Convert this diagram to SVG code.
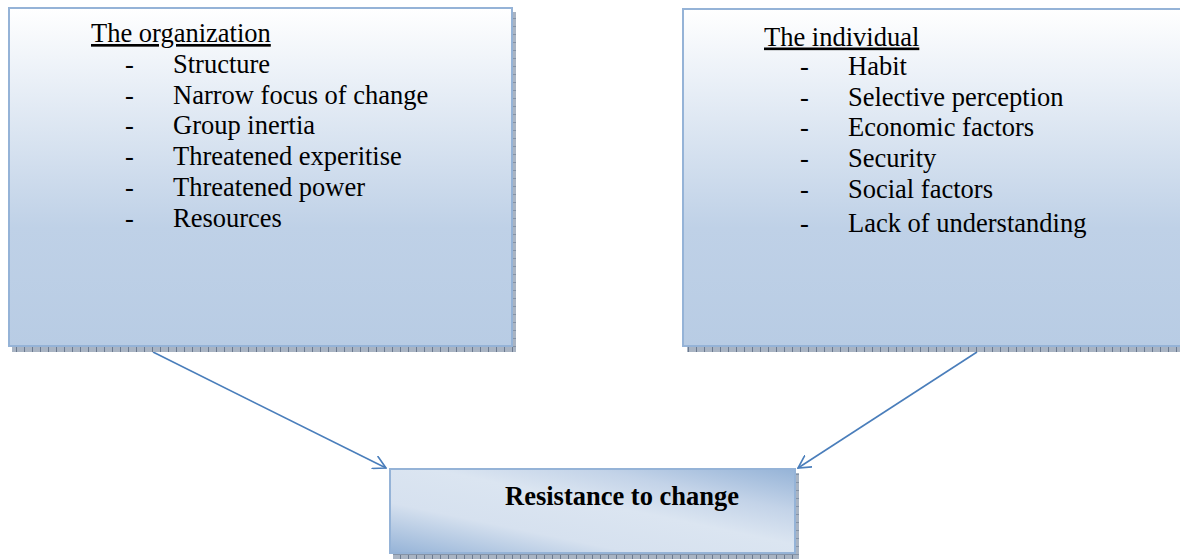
<svg xmlns="http://www.w3.org/2000/svg" width="1180" height="559" viewBox="0 0 1180 559">
<defs>
<style>
.txt{font-family:"Liberation Serif","Times New Roman",serif;font-size:26.5px;fill:#000}
.hdr{text-decoration:underline}
.bold{font-weight:bold}
.box{stroke:#95b3d7;stroke-width:2}
.conn{stroke:#4a7ebb;stroke-width:1.6;fill:none}
</style>
<linearGradient id="gv" x1="0" y1="0" x2="0" y2="1">
<stop offset="0" stop-color="#ffffff"/>
<stop offset="0.65" stop-color="#bfd1e7"/>
<stop offset="1" stop-color="#b8cce4"/>
</linearGradient>
<linearGradient id="gd" x1="0" y1="1" x2="1" y2="0">
<stop offset="0" stop-color="#95b3d7"/>
<stop offset="0.3" stop-color="#d6e1ef"/>
<stop offset="0.55" stop-color="#dbe5f1"/>
<stop offset="0.75" stop-color="#c3d3e8"/>
<stop offset="1" stop-color="#95b3d7"/>
</linearGradient>
<pattern id="sh" width="8" height="8" patternUnits="userSpaceOnUse">
<rect width="8" height="8" fill="#a9b4c3"/>
<rect x="0" y="0" width="1" height="8" fill="#6b7a90"/>
<rect x="0" y="2" width="8" height="1" fill="#8593a6"/>
</pattern>
<marker id="ah" viewBox="0 0 12 12" refX="11" refY="6" markerWidth="14" markerHeight="14" markerUnits="userSpaceOnUse" orient="auto">
<path d="M0,0 L11,6 L0,12" fill="none" stroke="#4a7ebb" stroke-width="1.4"/>
</marker>
</defs>
<rect width="1180" height="559" fill="#ffffff"/>
<g id="connectors">
<line class="conn" x1="153" y1="352" x2="386" y2="468" marker-end="url(#ah)"/>
<line class="conn" x1="977" y1="352" x2="798" y2="468" marker-end="url(#ah)"/>
</g>
<g id="node-organization">
<rect x="12" y="346" width="504" height="6" fill="url(#sh)"/>
<rect x="512" y="12" width="4" height="340" fill="url(#sh)"/>
<rect class="box" x="9" y="8" width="503" height="338" fill="url(#gv)"/>
<text class="txt hdr" x="91" y="42">The organization</text>
<text class="txt" x="125" y="72.5">-</text><text class="txt" x="173" y="72.5">Structure</text>
<text class="txt" x="125" y="104">-</text><text class="txt" x="173" y="104">Narrow focus of change</text>
<text class="txt" x="125" y="134">-</text><text class="txt" x="173" y="134">Group inertia</text>
<text class="txt" x="125" y="165">-</text><text class="txt" x="173" y="165">Threatened experitise</text>
<text class="txt" x="125" y="195.5">-</text><text class="txt" x="173" y="195.5">Threatened power</text>
<text class="txt" x="125" y="226.5">-</text><text class="txt" x="173" y="226.5">Resources</text>
</g>
<g id="node-individual">
<rect x="687" y="346" width="493" height="6" fill="url(#sh)"/>
<rect class="box" x="683" y="9" width="510" height="337" fill="url(#gv)"/>
<text class="txt hdr" x="764" y="45.5">The individual</text>
<text class="txt" x="800" y="75">-</text><text class="txt" x="848" y="75">Habit</text>
<text class="txt" x="800" y="106">-</text><text class="txt" x="848" y="106">Selective perception</text>
<text class="txt" x="800" y="136">-</text><text class="txt" x="848" y="136">Economic factors</text>
<text class="txt" x="800" y="166.5">-</text><text class="txt" x="848" y="166.5">Security</text>
<text class="txt" x="800" y="197.5">-</text><text class="txt" x="848" y="197.5">Social factors</text>
<text class="txt" x="800" y="231.5">-</text><text class="txt" x="848" y="231.5">Lack of understanding</text>
</g>
<g id="node-resistance">
<rect x="393" y="553" width="405" height="6" fill="url(#sh)"/>
<rect x="795" y="473" width="4" height="86" fill="url(#sh)"/>
<rect class="box" x="390" y="469" width="405" height="84" fill="url(#gd)"/>
<text class="txt bold" x="505" y="505">Resistance to change</text>
</g>
</svg>
